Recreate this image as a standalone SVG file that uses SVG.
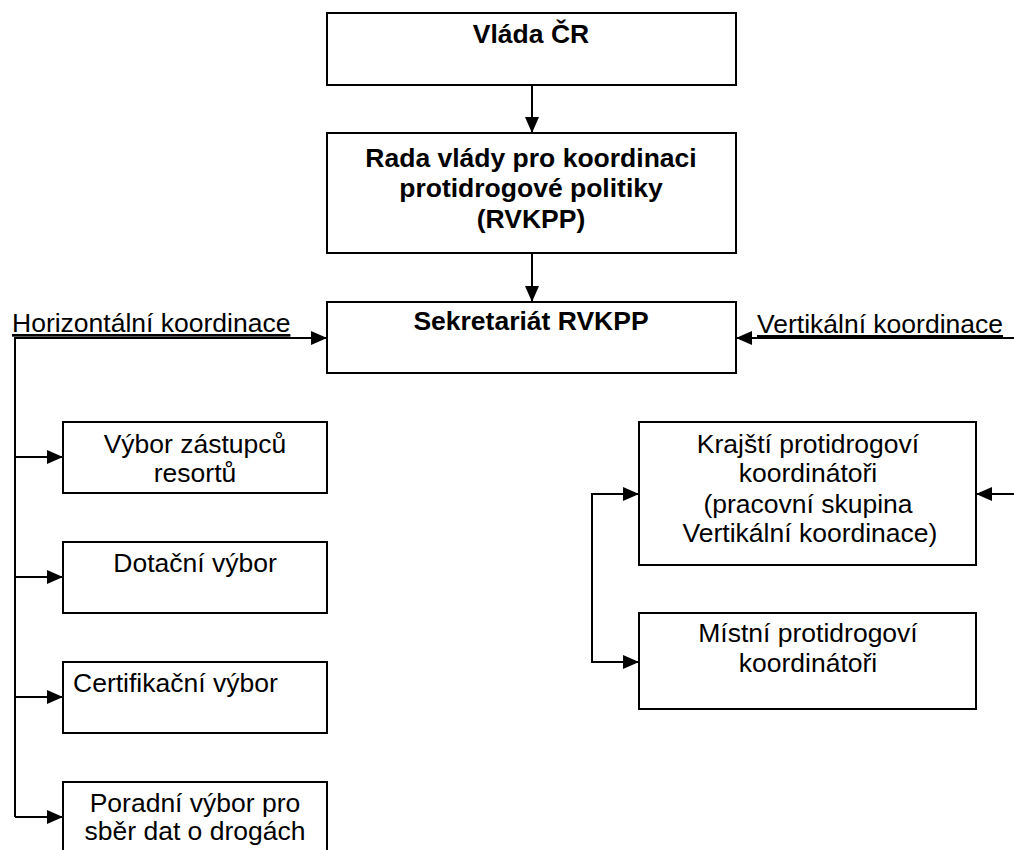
<svg xmlns="http://www.w3.org/2000/svg" width="1014" height="850" viewBox="0 0 1014 850">
<style>
.box{fill:#fff;stroke:#000;stroke-width:2}
.b{font-family:"Liberation Sans",Arial,sans-serif;font-size:26.5px;font-weight:bold;fill:#000;text-anchor:middle}
.r{font-family:"Liberation Sans",Arial,sans-serif;font-size:26.5px;fill:#000;text-anchor:middle}
.lbl{font-family:"Liberation Sans",Arial,sans-serif;font-size:26.5px;fill:#000;text-decoration:underline}
.c{fill:none;stroke:#000;stroke-width:2}
</style>
<defs>
<marker id="ah" markerUnits="userSpaceOnUse" markerWidth="16" markerHeight="14" refX="16" refY="7" orient="auto">
<path d="M0,0 L16,7 L0,14 z" fill="#000"/>
</marker>
</defs>
<rect width="1014" height="850" fill="#fff"/>
<g id="connectors">
<line class="c" x1="532" y1="85" x2="532" y2="133" marker-end="url(#ah)"/>
<line class="c" x1="532" y1="253" x2="532" y2="302" marker-end="url(#ah)"/>
<polyline class="c" points="15,817 15,338 327,338" marker-end="url(#ah)"/>
<line class="c" x1="15" y1="457" x2="63" y2="457" marker-end="url(#ah)"/>
<line class="c" x1="15" y1="577" x2="63" y2="577" marker-end="url(#ah)"/>
<line class="c" x1="15" y1="697" x2="63" y2="697" marker-end="url(#ah)"/>
<line class="c" x1="15" y1="817" x2="63" y2="817" marker-end="url(#ah)"/>
<line class="c" x1="1014" y1="338" x2="736" y2="338" marker-end="url(#ah)"/>
<line class="c" x1="1014" y1="494" x2="976" y2="494" marker-end="url(#ah)"/>
<polyline class="c" points="639,494 592,494 592,662 639,662" marker-end="url(#ah)"/>
<line class="c" x1="592" y1="494" x2="639" y2="494" marker-end="url(#ah)"/>
</g>
<g id="label-horizontal"><text class="lbl" x="12" y="332">Horizontální koordinace</text></g>
<g id="label-vertical"><text class="lbl" x="757" y="333">Vertikální koordinace</text></g>
<g id="vlada"><rect class="box" x="327" y="13" width="409" height="72"/><text class="b" x="531" y="43">Vláda ČR</text></g>
<g id="rada"><rect class="box" x="327" y="133" width="409" height="120"/>
<text class="b" x="531" y="167">Rada vlády pro koordinaci</text>
<text class="b" x="531" y="197">protidrogové politiky</text>
<text class="b" x="531" y="228">(RVKPP)</text></g>
<g id="sekretariat"><rect class="box" x="327" y="302" width="409" height="71"/><text class="b" x="531" y="330">Sekretariát RVKPP</text></g>
<g id="vybor"><rect class="box" x="63" y="422" width="264" height="71"/>
<text class="r" x="195" y="453">Výbor zástupců</text><text class="r" x="195" y="482">resortů</text></g>
<g id="dotacni"><rect class="box" x="63" y="542" width="264" height="71"/><text class="r" x="195" y="572">Dotační výbor</text></g>
<g id="certifikacni"><rect class="box" x="63" y="662" width="264" height="71"/><text class="r" x="73" y="692" style="text-anchor:start">Certifikační výbor</text></g>
<g id="poradni"><rect class="box" x="63" y="782" width="264" height="80"/>
<text class="r" x="195" y="812">Poradní výbor pro</text><text class="r" x="195" y="840">sběr dat o drogách</text></g>
<g id="krajsti"><rect class="box" x="639" y="422" width="337" height="143"/>
<text class="r" x="808" y="453">Krajští protidrogoví</text>
<text class="r" x="808" y="482">koordinátoři</text>
<text class="r" x="808" y="513">(pracovní skupina</text>
<text class="r" x="810" y="542">Vertikální koordinace)</text></g>
<g id="mistni"><rect class="box" x="639" y="613" width="337" height="96"/>
<text class="r" x="808" y="642">Místní protidrogoví</text>
<text class="r" x="808" y="672">koordinátoři</text></g>
</svg>
